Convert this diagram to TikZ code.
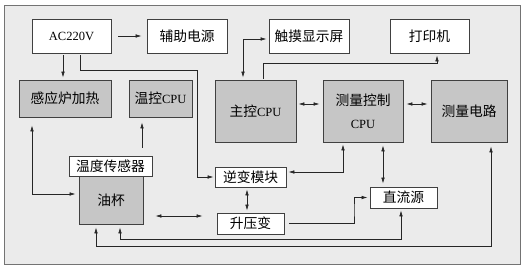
\documentclass[tikz,border=0pt]{standalone}
\usepackage{fontspec}
\setmainfont{Liberation Serif}
\newfontfamily\cjk[Scale=1.1]{Noto Sans CJK SC}
\usetikzlibrary{arrows.meta}
\begin{document}
\begin{tikzpicture}[x=1pt,y=-1pt,
  font=\fontsize{12.5}{14}\selectfont,
  box/.style={draw=black!75, line width=0.8pt, inner sep=0pt, align=center},
  wbox/.style={box, fill=white},
  gbox/.style={box, fill=gray!45},
  arr/.style={-{Latex[length=6pt,width=3.6pt]}, line width=0.7pt, draw=black!85},
  darr/.style={{Latex[length=6pt,width=3.6pt]}-{Latex[length=6pt,width=3.6pt]}, line width=0.7pt, draw=black!85}]
\useasboundingbox (0,0) rectangle (525,270);
\draw[fill=gray!16, draw=black!55, line width=0.8pt] (4,5) rectangle (520,264);
% top row
\node[wbox, minimum width=79pt, minimum height=34pt] (ac) at (71.5,36) {AC220V};
\node[wbox, minimum width=80pt, minimum height=34pt] (aux) at (187,36) {\cjk 辅助电源};
\node[wbox, minimum width=80pt, minimum height=34pt] (touch) at (309,36) {\cjk 触摸显示屏};
\node[wbox, minimum width=79pt, minimum height=34pt] (printer) at (429.5,36) {\cjk 打印机};
% second row
\node[gbox, minimum width=92pt, minimum height=37pt] (heat) at (65,98.5) {\cjk 感应炉加热};
\node[gbox, minimum width=63pt, minimum height=37pt] (tcpu) at (160.5,98.5) {{\cjk 温控}CPU};
\node[gbox, minimum width=81pt, minimum height=62pt] (mcpu) at (255.5,111) {{\cjk 主控}CPU};
\node[gbox, minimum width=80pt, minimum height=62pt] (mccpu) at (363,111) {{\cjk 测量控制}\\[9pt]CPU};
\node[gbox, minimum width=76pt, minimum height=62pt] (mcirc) at (469,111) {\cjk 测量电路};
% lower
\node[gbox, minimum width=64pt, minimum height=48pt] (cup) at (111,200) {\cjk 油杯};
\node[wbox, minimum width=83pt, minimum height=20pt] (sensor) at (110.5,166) {\cjk 温度传感器};
\node[wbox, minimum width=71pt, minimum height=20pt] (inv) at (250.5,177) {\cjk 逆变模块};
\node[wbox, minimum width=67pt, minimum height=21pt] (boost) at (250.5,223.5) {\cjk 升压变};
\node[wbox, minimum width=67pt, minimum height=21pt] (dc) at (403.5,197.5) {\cjk 直流源};
% helper coordinates
\coordinate (c1) at (197,70);
\coordinate (c2) at (437,63);
\coordinate (c3) at (354,210);
\coordinate (c4) at (491,246);
\coordinate (c5) at (401,239);
% connectors
\draw[arr, shorten <=7pt, shorten >=5pt] (ac.east) -- (aux.west);
\draw[arr, shorten <=2pt, shorten >=2pt] ([xshift=-8.5pt]ac.south) -- ([xshift=-8.5pt]ac.south |- heat.north);
\draw[arr, shorten <=2pt, shorten >=1pt] ([xshift=8.5pt]ac.south) |- (c1) |- (inv.west);
\draw[darr, shorten >=2pt, shorten <=2pt] ([xshift=-12.5pt]mcpu.north) |- ([yshift=-3pt]touch.west);
\draw[arr, shorten <=1pt, shorten >=2pt] ([xshift=7.5pt]mcpu.north) |- (c2) -- (c2 |- printer.south);
\draw[darr, shorten <=2pt, shorten >=3pt] ([yshift=7pt]mcpu.east) -- ([yshift=7pt]mccpu.west);
\draw[darr, shorten <=3pt, shorten >=3pt] ([yshift=7pt]mccpu.east) -- ([yshift=7pt]mcirc.west);
\draw[darr, shorten <=2pt, shorten >=2pt] ([xshift=-20pt]mccpu.south) |- ([yshift=5pt]inv.east);
\draw[darr, shorten <=3pt, shorten >=3pt] ([xshift=20pt]mccpu.south) -- ([xshift=20pt]mccpu.south |- dc.north);
\draw[darr, shorten <=2pt, shorten >=2pt] ([xshift=-3.5pt]inv.south) -- ([xshift=-3.5pt]inv.south |- boost.north);
\draw[arr, shorten <=5pt, shorten >=2pt] (boost.east) -| (c3) |- (dc.west);
\draw[darr, shorten <=12pt, shorten >=14pt] ([yshift=-16pt]cup.east) -- ([yshift=-16pt]cup.east -| boost.west);
\draw[arr, shorten <=8pt, shorten >=5pt] ([xshift=-18.5pt]tcpu.south |- sensor.north) -- ([xshift=-18.5pt]tcpu.south);
\draw[darr, shorten <=8pt, shorten >=3pt] ([xshift=-33pt]heat.south) |- ([yshift=6pt]cup.west);
\draw[darr, shorten <=3pt, shorten >=4pt] ([xshift=-15pt]cup.south) |- (c4) -- (c4 |- mcirc.south);
\draw[darr, shorten <=3pt, shorten >=2pt] ([xshift=9pt]cup.south) |- (c5) -- (c5 |- dc.south);
\end{tikzpicture}
\end{document}
